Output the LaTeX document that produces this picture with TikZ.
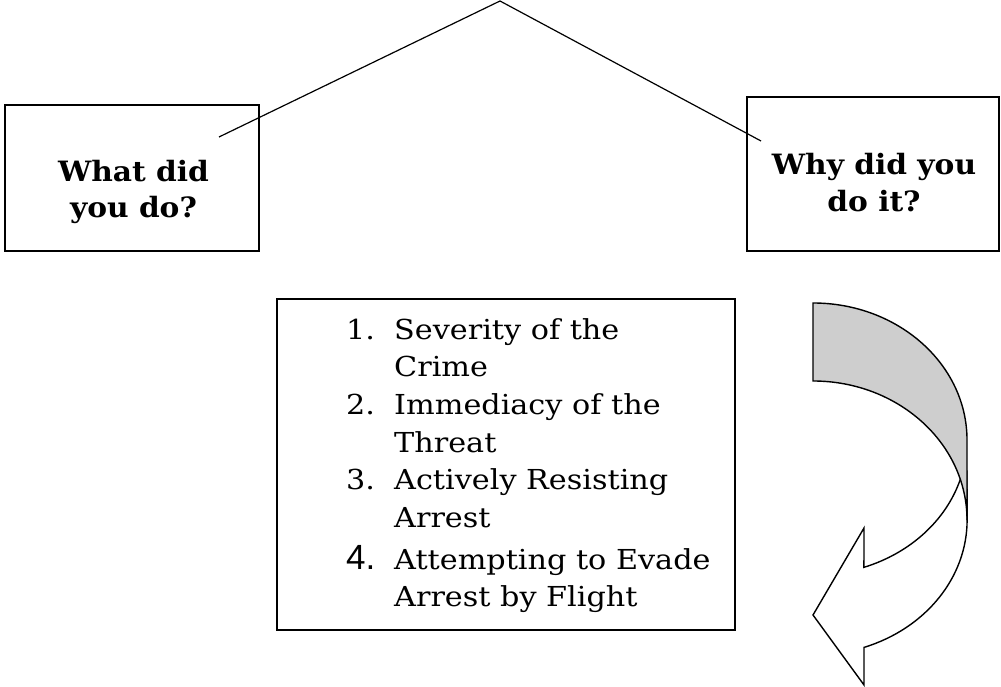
\documentclass[tikz,border=0pt]{standalone}
\usepackage{fontspec}
\setmainfont{DejaVu Serif}
\newfontfamily\sansfour{Liberation Sans}
\newfontfamily\listfont[FakeStretch=1.1]{DejaVu Serif}
\newfontfamily\headfont[FakeStretch=1.06]{DejaVu Serif Bold}
\definecolor{backgrey}{RGB}{206,206,206}
\tikzset{
  boxframe/.style={draw, line width=1.7pt, inner sep=0pt},
  boldtxt/.style={font=\headfont\fontsize{28}{34}\selectfont, inner sep=0pt, anchor=base},
  listtxt/.style={font=\listfont\fontsize{27.5}{33}\selectfont, inner sep=0pt, anchor=base west},
  numfour/.style={font=\sansfour\fontsize{35}{38}\selectfont, inner sep=0pt, anchor=base west},
  linkline/.style={line width=1.2pt},
  arrowline/.style={line width=1.4pt, line join=miter}
}
\begin{document}
\begin{tikzpicture}[x=1pt,y=1pt]
\useasboundingbox (0,0) rectangle (1001,687);
% boxes
\node[boxframe, minimum width=254pt, minimum height=146pt] (lbox) at (132,509) {};
\node[boxframe, minimum width=252pt, minimum height=154pt] (rbox) at (873,513) {};
\node[boxframe, minimum width=458pt, minimum height=331pt] (mbox) at (506,222.5) {};
% box texts
\node[boldtxt] (l1) at (133.5,505) {What did};
\node[boldtxt] (l2) at (133.5,469) {you do?};
\node[boldtxt] (r1) at (874,512) {Why did you};
\node[boldtxt] (r2) at (874,475) {do it?};
% connectors
\coordinate (apex) at (500,686);
\coordinate (lend) at (219,550);
\coordinate (rend) at (761,546);
\draw[linkline] (lend) -- (apex) -- (rend);
% list
\node[listtxt] (n1) at (346,347) {1.};
\node[listtxt] (t1a) at (394,347) {Severity of the};
\node[listtxt] (t1b) at (394,310) {Crime};
\node[listtxt] (n2) at (346,272) {2.};
\node[listtxt] (t2a) at (394,272) {Immediacy of the};
\node[listtxt] (t2b) at (394,234) {Threat};
\node[listtxt] (n3) at (346,197) {3.};
\node[listtxt] (t3a) at (394,197) {Actively Resisting};
\node[listtxt] (t3b) at (394,159) {Arrest};
\node[numfour] (n4) at (346,117) {4.};
\node[listtxt] (t4a) at (394,117) {Attempting to Evade};
\node[listtxt] (t4b) at (394,80) {Arrest by Flight};
% curved arrow: front (white)
\path[arrowline, draw=black, fill=white]
  (960.3,207.6) arc[start angle=-17, end angle=-70.7, x radius=154, y radius=135]
  -- (864,159) -- (813,72) -- (864,2) -- (864,39.6)
  arc[start angle=-70.7, end angle=0, x radius=154, y radius=135]
  -- (967,215) -- cycle;
% curved arrow: back (grey)
\path[arrowline, draw=black, fill=backgrey]
  (813,384) arc[start angle=90, end angle=0, x radius=154, y radius=137]
  -- (967,167) arc[start angle=0, end angle=90, x radius=154, y radius=139]
  -- cycle;
\end{tikzpicture}
\end{document}
